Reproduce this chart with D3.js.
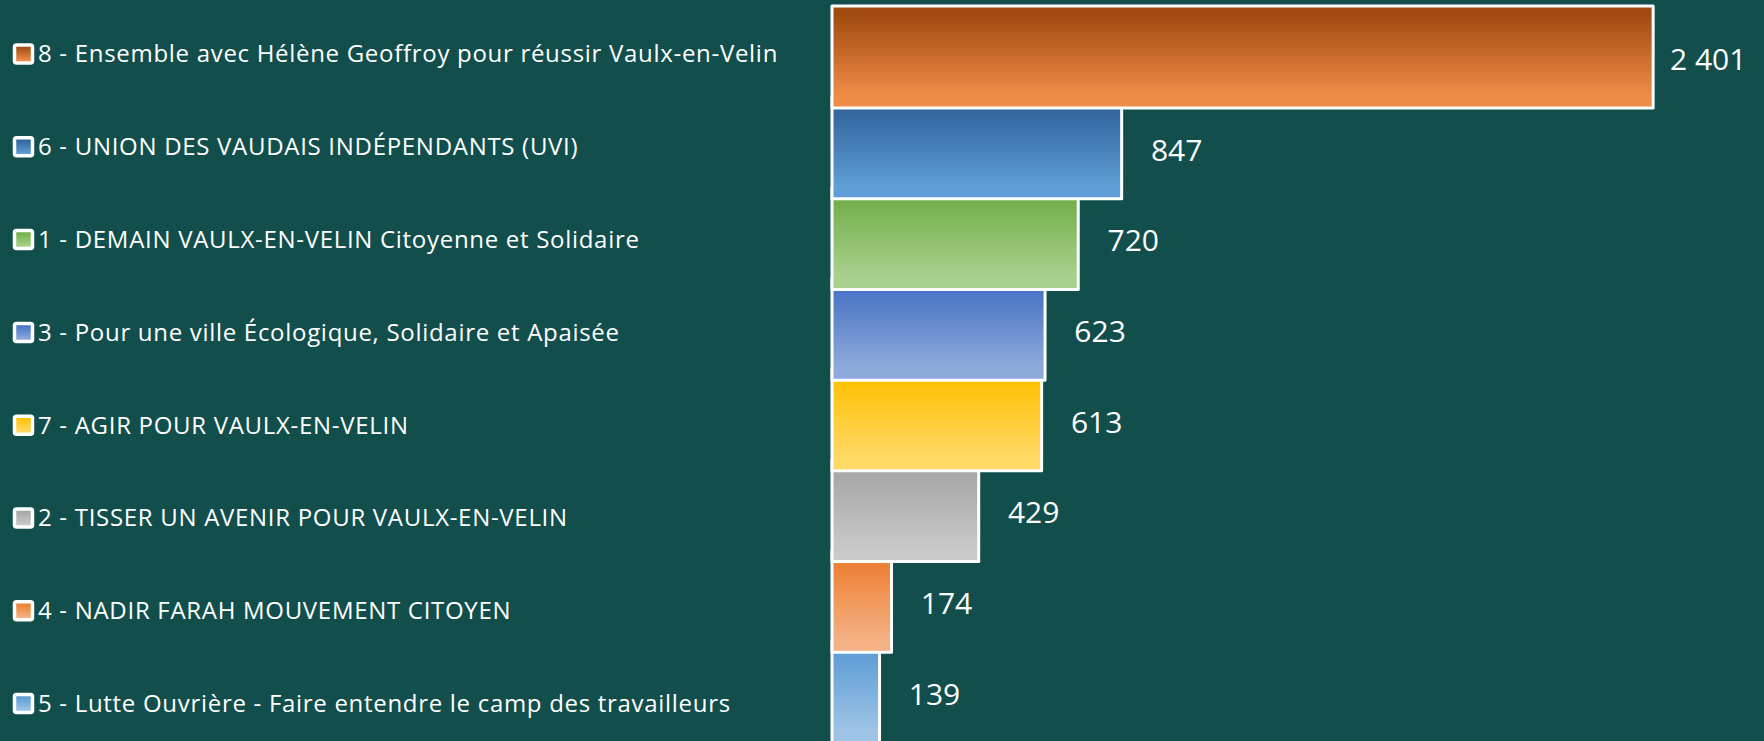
<!DOCTYPE html>
<html>
<head>
<meta charset="utf-8">
<script src="https://cdn.jsdelivr.net/npm/d3@7"></script>
<style>
  body { margin: 0; background: #114e4c; }
  svg { display: block; }
</style>
</head>
<body>
<div id="chart"></div>
<script>
const width = 1764, height = 741;

// data, in chart order (top to bottom)
const listes = [
    "8 - Ensemble avec Hélène Geoffroy pour réussir Vaulx-en-Velin",
    "6 - UNION DES VAUDAIS INDÉPENDANTS (UVI)",
    "1 - DEMAIN VAULX-EN-VELIN Citoyenne et Solidaire",
    "3 - Pour une ville Écologique, Solidaire et Apaisée",
    "7 - AGIR POUR VAULX-EN-VELIN",
    "2 - TISSER UN AVENIR POUR VAULX-EN-VELIN",
    "4 - NADIR FARAH MOUVEMENT CITOYEN",
    "5 - Lutte Ouvrière - Faire entendre le camp des travailleurs"
];
const voix = [2401, 847, 720, 623, 613, 429, 174, 139];
const topColors = ["#a04a10", "#2e6198", "#70ad47", "#4472c4", "#ffc000", "#a5a5a5", "#ed7d31", "#5b9bd5"];
const bottomColors = ["#ef8c48", "#5f9ed6", "#a9d18e", "#8eaadb", "#ffd966", "#c9c9c9", "#f4b183", "#9dc3e6"];

const data = listes.map((d, i) => ({name: d, value: voix[i], i: i}));

const svg = d3.select("#chart")
    .append("svg")
    .attr("width", width)
    .attr("height", height);

// gradients
const defs = svg.append("defs");
data.forEach(d => {
    const g = defs.append("linearGradient")
        .attr("id", "grad" + d.i)
        .attr("x1", 0).attr("y1", 0)
        .attr("x2", 0).attr("y2", 1);
    g.append("stop").attr("offset", "8%").attr("stop-color", topColors[d.i]);
    g.append("stop").attr("offset", "88%").attr("stop-color", bottomColors[d.i]);
});

const xScale = d3.scaleLinear()
    .domain([0, 2500])
    .range([832, 832 + 855]);

// bars step
const yBar = d3.scaleBand()
    .domain(listes)
    .range([6, 6 + 8 * 90.7])
    .padding(0);

// legend step
const yLeg = d3.scaleBand()
    .domain(listes)
    .range([54 - 46.4, 54 - 46.4 + 8 * 92.8])
    .padding(0);

const barH = yBar.bandwidth() * 1.125;

// bars drawn bottom first so each upper bar covers the next one
svg.append("g")
    .selectAll("rect")
    .data(data.slice().reverse())
    .enter()
    .append("rect")
    .attr("x", xScale(0))
    .attr("y", d => yBar(d.name))
    .attr("width", d => xScale(d.value) - xScale(0))
    .attr("height", barH)
    .attr("fill", d => `url(#grad${d.i})`)
    .attr("stroke", "#ffffff")
    .attr("stroke-width", 3)
    .attr("stroke-linejoin", "round");

// value labels
svg.append("g")
    .selectAll("text")
    .data(data)
    .enter()
    .append("text")
    .attr("x", d => xScale(d.value) + 55)
    .attr("y", d => yBar(d.name) + yBar.bandwidth() / 2 + 8)
    .attr("dy", "0.35em")
    .attr("text-anchor", "middle")
    .attr("fill", "#ffffff")
    .attr("font-family", "'Open Sans', sans-serif")
    .attr("font-size", "30px")
    .text(d => d3.format(",")(d.value).replace(",", " "));

// legend
const leg = svg.append("g")
    .selectAll("g")
    .data(data)
    .enter()
    .append("g")
    .attr("transform", d => `translate(0,${yLeg(d.name) + yLeg.bandwidth() / 2})`);

leg.append("rect")
    .attr("x", 14.5)
    .attr("y", -9)
    .attr("width", 18)
    .attr("height", 18)
    .attr("rx", 2)
    .attr("fill", d => `url(#grad${d.i})`)
    .attr("stroke", "#ffffff")
    .attr("stroke-width", 3.5);

leg.append("text")
    .attr("x", 38)
    .attr("dy", "0.35em")
    .attr("fill", "#ffffff")
    .attr("font-family", "'Open Sans', sans-serif")
    .attr("font-size", "24px")
    .attr("letter-spacing", "0.7px")
    .text(d => d.name);
</script>
</body>
</html>
